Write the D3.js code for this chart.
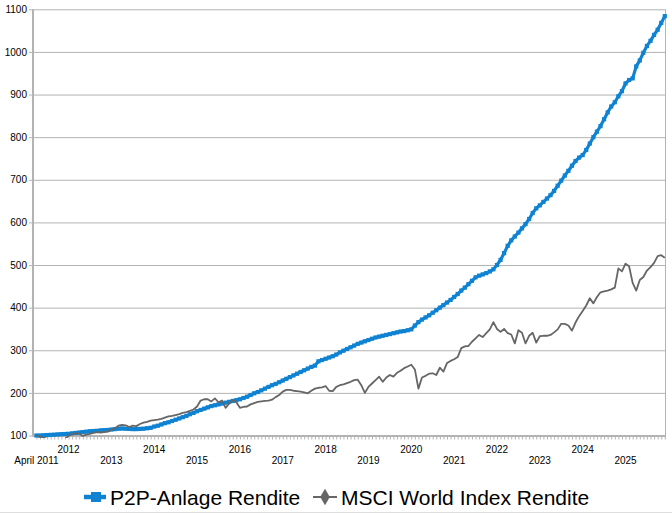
<!DOCTYPE html>
<html><head><meta charset="utf-8">
<script src="https://cdn.jsdelivr.net/npm/d3@7"></script>
<style>
body{margin:0;background:#fff}
svg{display:block}
text{font-family:"Liberation Sans",Arial,sans-serif}
</style>
</head><body>
<svg id="c" width="672" height="514"></svg>
<script>
// ---- data (monthly, April 2011 .. December 2025) ----
const xLabels = ["April 2011","2012","2013","2014","2015","2016","2017","2018","2019","2020","2021","2022","2023","2024","2025"];
const xLabelMonth = [0,9,21,33,45,57,69,81,93,105,117,129,141,153,165];
const yTicks = [100,200,300,400,500,600,700,800,900,1000,1100];
const seriesNames = ["P2P-Anlage Rendite","MSCI World Index Rendite"];

const p2p = [
 100,100,100.5,101,101.5,102,102.5,103,103.5,
 104,105,106,107,108,109,110,110.5,111,112,112.5,113,
 114,115,116,116.5,116,115.5,115,115,115.5,116,117,118,
 121,123,126,129,131,134,137,140,143,146,150,153,
 157,160,163,166,169,171,173,175,177,179,181,183,
 185,188,191,195,199,202,206,210,214,218,221,225,
 229,233,237,241,245,249,253,257,261,264,274,277,
 280,283,286,290,295,299,303,307,311,315,318,321,
 324,327,330,332,334,336,338,340,342,344,345,347,
 349,358,366,372,377,382,388,394,400,406,412,418,
 425,432,440,447,455,463,471,475,478,481,485,490,
 500,512,528,545,558,567,576,586,596,608,622,633,
 640,648,656,664,674,686,698,710,721,733,744,752,
 758,770,785,800,813,826,842,858,872,882,896,908,
 926,934,938,966,980,998,1014,1026,1040,1052,1068,1084
];
const msci = [
 100,97,95,92,85,81,88,87,92,
 99,104,105,104,99,102,104,106,108,107,108,109,
 113,117,123,125,124,120,123,122,127,130,132,135,
 136,137,139,142,145,146,148,150,153,155,158,161,
 168,182,185,185,180,187,178,182,165,175,184,178,
 165,167,168,173,176,179,180,181,182,184,190,195,
 203,207,207,205,204,203,201,199,205,210,212,213,
 216,205,204,214,218,220,223,226,230,231,218,200,
 214,222,230,238,226,236,242,238,247,252,258,262,
 266,255,210,236,240,245,246,242,259,250,270,275,
 279,284,305,309,310,320,328,336,331,340,349,366,
 350,343,350,340,337,316,347,341,316,334,341,318,
 333,334,334,336,342,349,362,362,358,346,365,380,
 392,405,422,410,425,436,438,440,443,447,492,485,
 503,497,458,440,465,472,487,495,505,521,523,517
];

// ---- layout ----
const plot = {l:33, r:665.5, t:9.3, b:435.5};
const BLUE = "#0f83d2", GRAY = "#666666", AXIS = "#b3b3b3";
const FONT = '"Liberation Sans",Arial,sans-serif';

const svg = d3.select("#c");
const x = d3.scaleLinear().domain([-0.95, 176.2]).range([plot.l, plot.r]);
const y = d3.scaleLinear().domain([100, 1100]).range([plot.b, plot.t]);

// grid lines
const grid = svg.append("g").attr("transform", `translate(${plot.l},0)`)
  .call(d3.axisLeft(y).tickValues(yTicks).tickSize(-(plot.r - plot.l)).tickFormat(""));
grid.select(".domain").remove();
grid.selectAll("line").attr("stroke", AXIS).attr("stroke-width", 1);

// y axis ticks + labels
const ya = svg.append("g").attr("transform", `translate(${plot.l},0)`)
  .call(d3.axisLeft(y).tickValues(yTicks).tickSize(4).tickPadding(2).tickFormat(d3.format("d")));
ya.select(".domain").remove();
ya.selectAll("line").attr("stroke", AXIS);
ya.selectAll("text").attr("font-size", 10).attr("font-family", FONT).attr("fill", "#000");

// right border
svg.append("line").attr("x1", plot.r).attr("x2", plot.r).attr("y1", plot.t).attr("y2", plot.b)
  .attr("stroke", AXIS).attr("stroke-width", 1);
// left axis line
svg.append("line").attr("x1", plot.l).attr("x2", plot.l).attr("y1", plot.t).attr("y2", plot.b + 1)
  .attr("stroke", AXIS).attr("stroke-width", 2);

// x axis with monthly ticks
const xa = svg.append("g").attr("transform", `translate(0,${plot.b})`)
  .call(d3.axisBottom(x).tickValues(d3.range(0, p2p.length)).tickSize(4).tickSizeOuter(0).tickFormat(""));
xa.select(".domain").attr("stroke", AXIS).attr("stroke-width", 2);
xa.selectAll(".tick line").attr("stroke", AXIS).attr("stroke-width", 1);

// x labels, alternating rows
svg.append("g").selectAll("text").data(xLabels).join("text")
  .attr("x", (d, i) => x(xLabelMonth[i]))
  .attr("y", (d, i) => i % 2 === 0 ? 464 : 453)
  .attr("text-anchor", "middle")
  .attr("font-size", 10).attr("font-family", FONT).attr("fill", "#000")
  .text(d => d);

// clip
svg.append("clipPath").attr("id", "clip").append("rect")
  .attr("x", plot.l - 4).attr("y", plot.t - 4).attr("width", plot.r - plot.l + 8).attr("height", plot.b - plot.t + 6.5);

const line = d3.line().x((d, i) => x(i)).y(d => y(d));
const g = svg.append("g").attr("clip-path", "url(#clip)");

// P2P series
g.append("path").datum(p2p).attr("d", line).attr("fill", "none")
  .attr("stroke", BLUE).attr("stroke-width", 3.2).attr("stroke-linejoin", "round");
g.append("g").selectAll("rect").data(p2p).join("rect")
  .attr("x", (d, i) => x(i) - 2.1).attr("y", d => y(d) - 2.1)
  .attr("width", 4.2).attr("height", 4.2).attr("fill", BLUE);

// MSCI series
g.append("path").datum(msci).attr("d", line).attr("fill", "none")
  .attr("stroke", GRAY).attr("stroke-width", 1.8).attr("stroke-linejoin", "round");

// legend
const ly = 497;
const leg = svg.append("g");
leg.append("line").attr("x1", 84).attr("x2", 106).attr("y1", ly).attr("y2", ly)
  .attr("stroke", BLUE).attr("stroke-width", 4.5);
leg.append("rect").attr("x", 96 - 5).attr("y", ly - 5).attr("width", 10).attr("height", 10).attr("fill", BLUE);
leg.append("text").attr("x", 110).attr("y", ly + 7.5).attr("font-size", 21).attr("font-family", FONT)
  .attr("fill", "#000").text(seriesNames[0]);

leg.append("line").attr("x1", 313).attr("x2", 337).attr("y1", ly).attr("y2", ly)
  .attr("stroke", GRAY).attr("stroke-width", 2);
leg.append("path").attr("d", d3.symbol(d3.symbolDiamond, 80)()).attr("transform", `translate(325,${ly})`)
  .attr("fill", GRAY);
leg.append("text").attr("x", 341).attr("y", ly + 7.5).attr("font-size", 21).attr("font-family", FONT)
  .attr("fill", "#000").text(seriesNames[1]);

// faint bottom border
svg.append("line").attr("x1", 0).attr("x2", 672).attr("y1", 512.5).attr("y2", 512.5)
  .attr("stroke", "#dddddd").attr("stroke-width", 1);
</script>
</body></html>
